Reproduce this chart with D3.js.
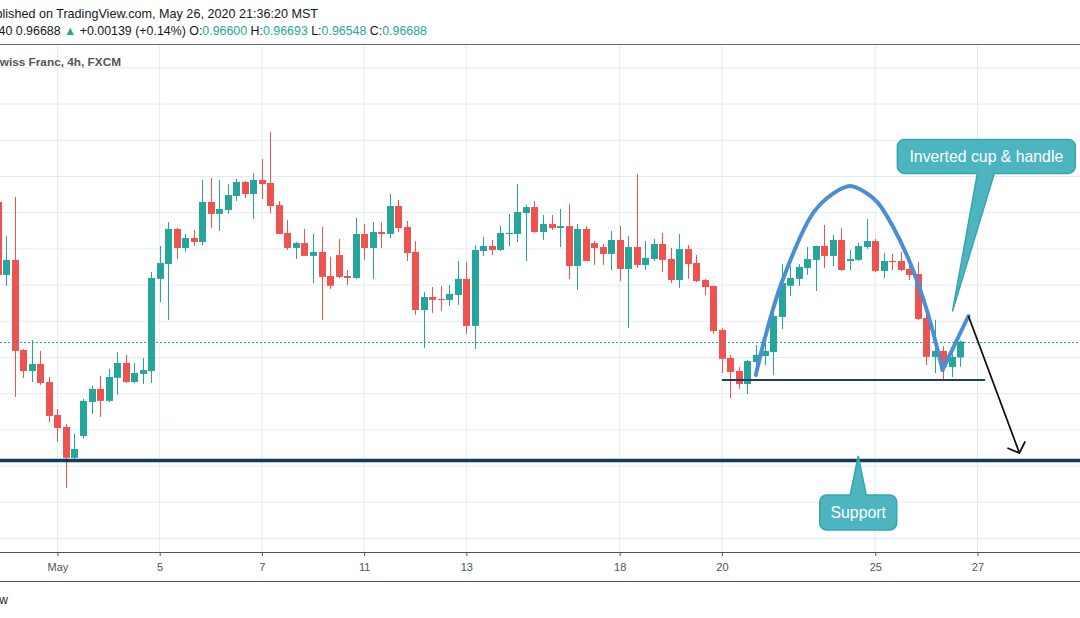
<!DOCTYPE html>
<html>
<head>
<meta charset="utf-8">
<script src="https://cdn.jsdelivr.net/npm/d3@7"></script>
<style>
  body { margin: 0; background: #fff; }
  svg { display: block; font-family: "Liberation Sans", Arial, sans-serif; }
</style>
</head>
<body>
<div id="chart-container"></div>
<script>
// USDCHF 4h candles (index 7 = May 1 00:00)

const opens = [0.97459,0.97056,0.97139,0.96641,0.96525,0.96564,0.96464,0.96282,0.96216,0.96045,
  0.96166,0.96354,0.96426,0.9636,0.96487,0.96569,0.96464,0.96509,0.96525,0.97034,
  0.97116,0.9731,0.97205,0.9726,0.97238,0.97459,0.97393,0.97415,0.97492,0.9757,
  0.97503,0.97581,0.97564,0.97442,0.97288,0.97205,0.97232,0.97161,0.97183,0.9705,
  0.97166,0.9705,0.97039,0.97282,0.97205,0.97293,0.97282,0.97437,0.97321,0.97183,
  0.96862,0.96934,0.96923,0.96918,0.96945,0.97034,0.96774,0.97188,0.97216,0.97194,
  0.97282,0.97282,0.97398,0.97431,0.97293,0.97337,0.97315,0.97326,0.97105,0.9731,
  0.97232,0.9721,0.97172,0.97249,0.97089,0.9721,0.97111,0.97144,0.97227,0.97144,
  0.97028,0.97199,0.97122,0.97028,0.96995,0.96752,0.96597,0.96525,0.96453,0.96575,
  0.96608,0.9663,0.96824,0.96996,0.97034,0.97094,0.97139,0.97216,0.97161,0.97249,
  0.97133,0.97139,0.9721,0.97243,0.97078,0.97133,0.97133,0.97089,0.97061,0.96818,
  0.96603,0.96636,0.96547,0.966];
const highs = [0.97481,0.97271,0.97487,0.96647,0.96697,0.96636,0.96492,0.96315,0.96232,0.96177,
  0.96371,0.96442,0.96498,0.96536,0.9663,0.96614,0.96569,0.96597,0.97072,0.97216,
  0.97348,0.97315,0.97282,0.97304,0.97581,0.97592,0.97581,0.97558,0.97586,0.97575,
  0.97619,0.97697,0.97846,0.97464,0.9736,0.97238,0.9731,0.97282,0.97321,0.97155,
  0.97255,0.97083,0.97371,0.97337,0.97348,0.97348,0.97503,0.9747,0.97354,0.97243,
  0.96962,0.96989,0.96996,0.97,0.97133,0.97127,0.97221,0.97266,0.97249,0.97326,
  0.97393,0.97558,0.97442,0.97464,0.97387,0.97387,0.9742,0.97448,0.97337,0.97326,
  0.97243,0.97227,0.97299,0.97326,0.97271,0.97614,0.97243,0.97255,0.97288,0.97205,
  0.97282,0.97221,0.97166,0.97034,0.96997,0.96763,0.96614,0.96547,0.96586,0.96669,
  0.96697,0.96901,0.97116,0.97105,0.97116,0.9721,0.97218,0.97332,0.97277,0.97315,
  0.97194,0.97232,0.97365,0.97255,0.97177,0.97172,0.97183,0.97116,0.97127,0.96862,
  0.96807,0.96663,0.96619,0.96693];
const lows = [0.97045,0.96995,0.96382,0.96487,0.96464,0.96448,0.96243,0.96133,0.95879,0.96034,
  0.9615,0.96288,0.96271,0.96354,0.96393,0.96459,0.96459,0.96453,0.96459,0.96906,
  0.96807,0.97144,0.97183,0.97216,0.97221,0.97315,0.97299,0.97393,0.97464,0.97481,
  0.97365,0.97476,0.97398,0.97282,0.97194,0.97144,0.97161,0.97011,0.96807,0.96978,
  0.97039,0.97,0.97034,0.97139,0.97034,0.97205,0.9726,0.97293,0.97133,0.96835,
  0.96652,0.96846,0.96857,0.96884,0.9689,0.9673,0.96647,0.97161,0.97166,0.97188,
  0.97216,0.97238,0.97133,0.97288,0.97249,0.97304,0.9721,0.97034,0.96973,0.97133,
  0.97111,0.97111,0.97083,0.97022,0.96763,0.97094,0.97083,0.97133,0.97072,0.97011,
  0.96984,0.97034,0.97017,0.96945,0.9673,0.96514,0.96376,0.96426,0.96398,0.96558,
  0.96558,0.96503,0.96757,0.9694,0.96996,0.97056,0.96967,0.97094,0.97105,0.97078,
  0.97083,0.97133,0.97199,0.97072,0.97039,0.97083,0.97078,0.97028,0.96807,0.96558,
  0.96514,0.9647,0.96492,0.96548];
const closes = [0.97056,0.97139,0.96636,0.96525,0.96564,0.96459,0.96277,0.9621,0.96045,0.96094,
  0.9636,0.96426,0.9636,0.96492,0.96569,0.96464,0.96514,0.96531,0.97039,0.97122,
  0.9731,0.97205,0.9726,0.97238,0.97459,0.97393,0.9742,0.97498,0.9757,0.97503,
  0.97581,0.97558,0.97437,0.97282,0.97205,0.97232,0.97161,0.97183,0.97045,0.96996,
  0.97045,0.97039,0.97282,0.97205,0.97293,0.97282,0.97437,0.97315,0.97177,0.96862,
  0.96934,0.96918,0.96918,0.96951,0.97034,0.96774,0.97194,0.97216,0.97194,0.97288,
  0.97288,0.97404,0.97431,0.97293,0.97337,0.97315,0.97326,0.97105,0.9731,0.97133,
  0.97205,0.97172,0.97249,0.97089,0.9721,0.97111,0.9715,0.97227,0.97139,0.97028,
  0.97199,0.97116,0.97022,0.96989,0.96746,0.96592,0.9652,0.96453,0.9658,0.96614,
  0.96636,0.96829,0.97011,0.97039,0.971,0.97144,0.97216,0.97161,0.97249,0.97083,
  0.97144,0.97216,0.97243,0.97078,0.97133,0.97127,0.97083,0.97056,0.96813,0.96603,
  0.96636,0.96547,0.96603,0.96688];

// date labels on the time axis (candle index of each)
const tickIdx = [7, 19, 31, 43, 55, 73, 85, 103, 115];
const tickLabels = ["May", "5", "7", "11", "13", "18", "20", "25", "27"];
const gridPrices = [0.956, 0.958, 0.960, 0.962, 0.964, 0.966, 0.968, 0.970, 0.972, 0.974, 0.976, 0.978, 0.980, 0.982];

const lastClose = 0.96688;
const supportLevel = 0.9603;

// drawings
const cupIdx   = [88.98, 89.99, 92.0, 95.7, 98.09, 100.05, 102.0, 103.34, 105.1, 107.1, 109.05, 110.9];
const cupPrice = [0.96503, 0.96697, 0.97011, 0.97398, 0.97507, 0.97547, 0.97507, 0.97453, 0.97321, 0.97122, 0.96862, 0.96531];
const handleIdx = [110.9, 113.94];
const handlePrice = [0.96531, 0.96829];
const arrowIdx = [113.94, 119.92];
const arrowPrice = [0.96829, 0.96072];
const necklineIdx = [85.0, 115.9];
const necklinePrice = [0.96476, 0.96476];

const notes = [
  { text: "Inverted cup & handle", idx: 116.04, price: 0.97711, tipIdx: 112.06, tipPrice: 0.96853, side: "bottom", w: 178, h: 34 },
  { text: "Support", idx: 101.0, price: 0.95743, tipIdx: 101.0, tipPrice: 0.96056, side: "top", w: 77, h: 35 }
];

const W = 1080, H = 618;
const plot = { top: 44, bottom: 552, left: 0, right: 1080 };
const step = 8.519;

const svg = d3.select("#chart-container")
  .append("svg")
    .attr("width", W)
    .attr("height", H);

const x = d3.scaleLinear()
  .domain([0, 1])
  .range([-2.2, -2.2 + step]);

const y = d3.scaleLinear()
  .domain([0.956, 0.982])
  .range([538.4, 67.9]);

svg.append("clipPath").attr("id", "plot-clip")
  .append("rect")
    .attr("x", plot.left).attr("y", plot.top)
    .attr("width", plot.right - plot.left).attr("height", plot.bottom - plot.top);

// grid
const grid = svg.append("g").attr("clip-path", "url(#plot-clip)");
grid.selectAll(".hg").data(gridPrices).join("line")
  .attr("x1", plot.left).attr("x2", plot.right)
  .attr("y1", d => y(d)).attr("y2", d => y(d))
  .attr("stroke", "#e3ebf2").attr("stroke-width", 1);
grid.selectAll(".vg").data(tickIdx).join("line")
  .attr("x1", d => x(d)).attr("x2", d => x(d))
  .attr("y1", plot.top).attr("y2", plot.bottom)
  .attr("stroke", "#e3ebf2").attr("stroke-width", 1);

// header (cut at the left edge, as in the published snapshot)
svg.append("text")
  .attr("x", 318).attr("y", 18)
  .attr("text-anchor", "end")
  .attr("font-size", 12.6).attr("fill", "#131722")
  .text("Published on TradingView.com, May 26, 2020 21:36:20 MST");

const hdr = svg.append("text")
  .attr("x", 427).attr("y", 35)
  .attr("text-anchor", "end")
  .attr("font-size", 12.4).attr("fill", "#131722");
const teal = "#26a69a";
[["USDCHF, 240 0.96688 ", null], ["\u25B2", teal], [" +0.00139 (+0.14%) O:", null], ["0.96600", teal],
 [" H:", null], ["0.96693", teal], [" L:", null], ["0.96548", teal], [" C:", null], ["0.96688", teal]]
  .forEach(([t, c]) => hdr.append("tspan").attr("fill", c || "#131722").text(t));

svg.append("line")
  .attr("x1", 0).attr("x2", W).attr("y1", 44.5).attr("y2", 44.5)
  .attr("stroke", "#6b6e77").attr("stroke-width", 1);

svg.append("text")
  .attr("x", 121).attr("y", 66)
  .attr("text-anchor", "end")
  .attr("font-size", 11.8).attr("font-weight", "bold").attr("fill", "#555")
  .text("U.S. Dollar/Swiss Franc, 4h, FXCM");

// candles
const candles = d3.range(opens.length).map(i => ({
  i, o: opens[i], h: highs[i], l: lows[i], c: closes[i]
}));
const up = "#26a69a", down = "#ef5350";

const cg = svg.append("g").attr("clip-path", "url(#plot-clip)");
const c = cg.selectAll("g.candle").data(candles).join("g").attr("class", "candle");
c.append("line")
  .attr("x1", d => Math.round(x(d.i)) + 0.5).attr("x2", d => Math.round(x(d.i)) + 0.5)
  .attr("y1", d => y(d.h)).attr("y2", d => y(d.l))
  .attr("stroke", d => d.c >= d.o ? up : down).attr("stroke-width", 1);
c.append("rect")
  .attr("x", d => Math.round(x(d.i)) - 3)
  .attr("width", 7)
  .attr("y", d => y(Math.max(d.o, d.c)))
  .attr("height", d => Math.max(1, Math.abs(y(d.o) - y(d.c))))
  .attr("fill", d => d.c >= d.o ? up : down);

// last price line
cg.append("line")
  .attr("x1", plot.left).attr("x2", plot.right)
  .attr("y1", Math.round(y(lastClose)) + 0.5).attr("y2", Math.round(y(lastClose)) + 0.5)
  .attr("stroke", teal).attr("stroke-width", 1).attr("stroke-dasharray", "2,2");

// support + neckline
cg.append("line")
  .attr("x1", plot.left).attr("x2", plot.right)
  .attr("y1", y(supportLevel)).attr("y2", y(supportLevel))
  .attr("stroke", "#0f3a62").attr("stroke-width", 3.5);
cg.append("line")
  .attr("x1", x(necklineIdx[0])).attr("x2", x(necklineIdx[1]))
  .attr("y1", y(necklinePrice[0])).attr("y2", y(necklinePrice[1]))
  .attr("stroke", "#1d3f66").attr("stroke-width", 2);

// cup & handle
const cupLine = d3.line().x(d => x(d[0])).y(d => y(d[1])).curve(d3.curveCatmullRom);
cg.append("path")
  .datum(d3.zip(cupIdx, cupPrice))
  .attr("d", cupLine)
  .attr("fill", "none").attr("stroke", "#4a8fd2").attr("stroke-width", 4).attr("stroke-linecap", "round");
cg.append("path")
  .datum(d3.zip(handleIdx, handlePrice))
  .attr("d", d3.line().x(d => x(d[0])).y(d => y(d[1])))
  .attr("fill", "none").attr("stroke", "#4a8fd2").attr("stroke-width", 4).attr("stroke-linecap", "round");

// target arrow
const a0 = [x(arrowIdx[0]), y(arrowPrice[0])], a1 = [x(arrowIdx[1]), y(arrowPrice[1])];
const ang = Math.atan2(a1[1] - a0[1], a1[0] - a0[0]) + Math.PI;
const headLen = 13, spread = 0.82;
cg.append("path")
  .attr("d", `M${a0[0]},${a0[1]}L${a1[0]},${a1[1]}` +
    `M${a1[0] + headLen * Math.cos(ang - spread)},${a1[1] + headLen * Math.sin(ang - spread)}` +
    `L${a1[0]},${a1[1]}` +
    `L${a1[0] + headLen * Math.cos(ang + spread)},${a1[1] + headLen * Math.sin(ang + spread)}`)
  .attr("fill", "none").attr("stroke", "#111").attr("stroke-width", 1.8);

// callouts
function callout(cx, cy, w, h, r, side, tx, ty) {
  const x0 = cx - w / 2, x1 = cx + w / 2, y0 = cy - h / 2, y1 = cy + h / 2;
  const p = d3.path();
  p.moveTo(x0 + r, y0);
  if (side === "top") { p.lineTo(cx - 8, y0); p.lineTo(tx, ty); p.lineTo(cx + 8, y0); }
  p.lineTo(x1 - r, y0);
  p.arcTo(x1, y0, x1, y0 + r, r);
  p.lineTo(x1, y1 - r);
  p.arcTo(x1, y1, x1 - r, y1, r);
  if (side === "bottom") { p.lineTo(cx + 8, y1); p.lineTo(tx, ty); p.lineTo(cx - 9, y1); }
  p.lineTo(x0 + r, y1);
  p.arcTo(x0, y1, x0, y1 - r, r);
  p.lineTo(x0, y0 + r);
  p.arcTo(x0, y0, x0 + r, y0, r);
  p.closePath();
  return p.toString();
}

const ng = svg.append("g").attr("clip-path", "url(#plot-clip)");
notes.forEach(n => {
  const cx = x(n.idx), cy = y(n.price);
  ng.append("path")
    .attr("d", callout(cx, cy, n.w, n.h, 7, n.side, x(n.tipIdx), y(n.tipPrice)))
    .attr("fill", "#4cb5c0").attr("stroke", "#38a5b0").attr("stroke-width", 1.5);
  ng.append("text")
    .attr("x", cx).attr("y", cy + 5.5)
    .attr("text-anchor", "middle")
    .attr("font-size", 15.8).attr("fill", "#fff")
    .text(n.text);
});

// time axis
svg.append("line")
  .attr("x1", 0).attr("x2", W).attr("y1", plot.bottom + 0.5).attr("y2", plot.bottom + 0.5)
  .attr("stroke", "#50535e").attr("stroke-width", 1);
svg.append("line")
  .attr("x1", 0).attr("x2", W).attr("y1", 581.5).attr("y2", 581.5)
  .attr("stroke", "#50535e").attr("stroke-width", 1);

const xAxis = svg.append("g")
  .attr("transform", `translate(0,${plot.bottom})`)
  .call(d3.axisBottom(x)
    .tickValues(tickIdx)
    .tickFormat((d, i) => tickLabels[i])
    .tickSize(4)
    .tickPadding(7));
xAxis.select(".domain").remove();
xAxis.selectAll(".tick line").attr("stroke", "#50535e");
xAxis.selectAll(".tick text")
  .attr("fill", "#50535e")
  .attr("font-size", 11)
  .attr("font-family", "\"Liberation Sans Narrow\", \"Liberation Sans\", sans-serif");

// footer, cut at the left edge
svg.append("text")
  .attr("x", 8).attr("y", 604)
  .attr("text-anchor", "end")
  .attr("font-size", 12).attr("fill", "#1e1e1e")
  .text("TradingView");
</script>
</body>
</html>
